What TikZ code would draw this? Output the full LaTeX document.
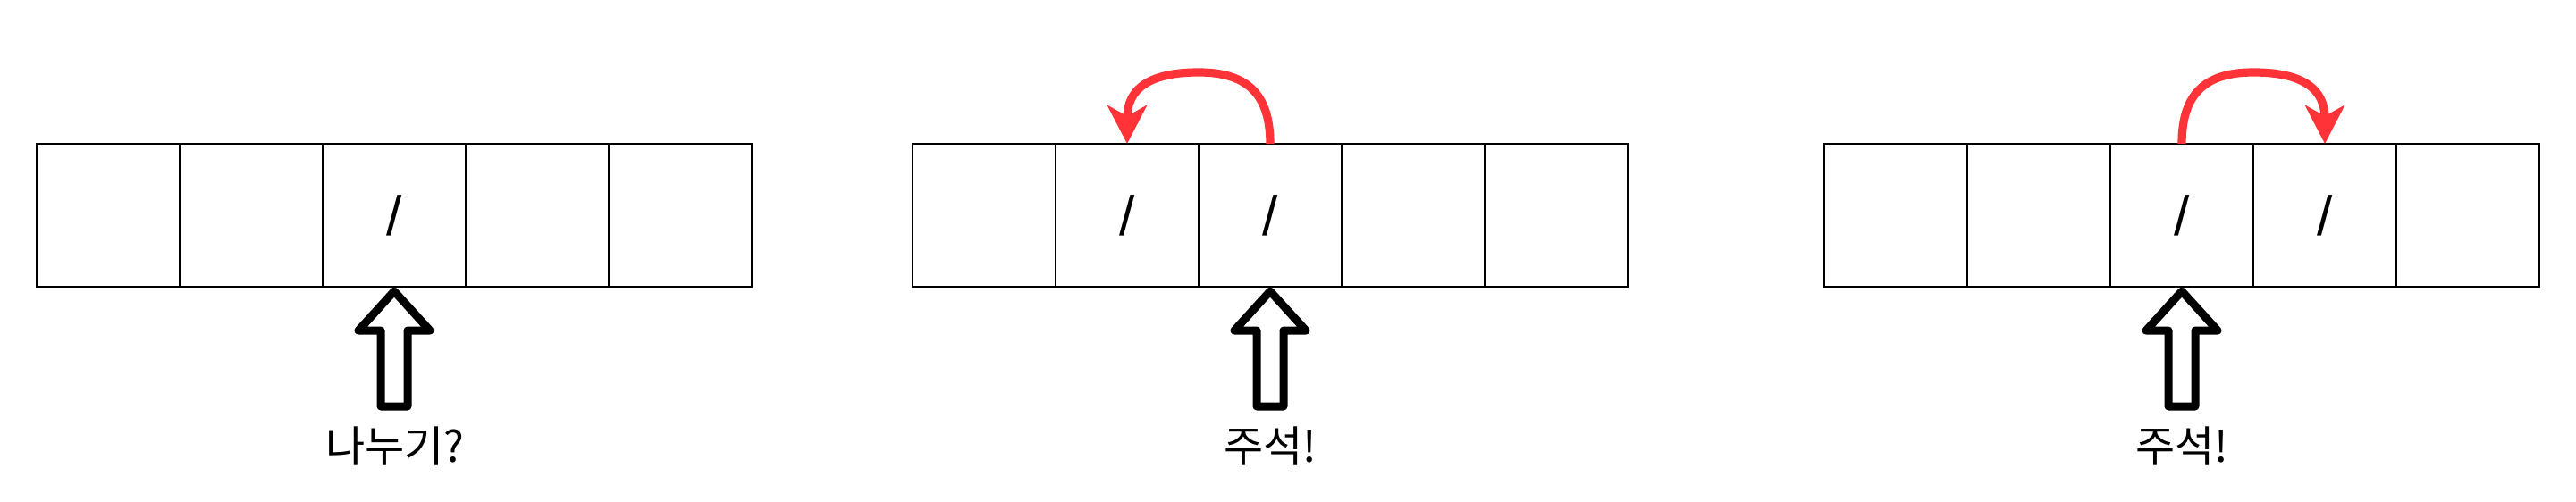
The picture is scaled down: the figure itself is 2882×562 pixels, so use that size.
\documentclass[tikz,border=0pt]{standalone}
\usepackage{fontspec}
\newfontfamily\krfont{Noto Sans CJK KR}
\newfontfamily\slashfont{Liberation Sans}
\usetikzlibrary{arrows.meta}
\definecolor{arrowred}{RGB}{255,51,56}
\tikzset{
  cell/.style={draw=black, line width=1pt, minimum width=80pt, minimum height=80pt, inner sep=0pt, outer sep=0pt},
  slashmark/.style={font=\slashfont\fontsize{31pt}{36pt}\selectfont, inner sep=0pt},
  outerframe/.style={draw=black, line width=1.35pt},
  hollowarrow/.style={draw=black, line width=4.5pt, line join=round, line cap=round},
  caption/.style={font=\krfont\fontsize{24pt}{28pt}\selectfont, inner sep=0pt},
  movearrow/.style={draw=arrowred, line width=4.6pt, -{Stealth[length=21.5pt, width=22pt, inset=6pt]}}
}
\begin{document}
\begin{tikzpicture}[x=0.5pt, y=-0.5pt]
\useasboundingbox (0,0) rectangle (2882,562);
% ---------- cells ----------
\foreach \i in {1,...,5} {
  \node[cell] (a\i) at ({41+160*(\i-0.5)},241) {};
  \node[cell] (b\i) at ({1021+160*(\i-0.5)},241) {};
  \node[cell] (c\i) at ({2041+160*(\i-0.5)},241) {};
}
\draw[outerframe] (a1.north west) rectangle (a5.south east);
\draw[outerframe] (b1.north west) rectangle (b5.south east);
\draw[outerframe] (c1.north west) rectangle (c5.south east);

% ---------- slash contents ----------
\node[slashmark] (sa3) at (a3) {/};
\node[slashmark] (sb2) at (b2) {/};
\node[slashmark] (sb3) at (b3) {/};
\node[slashmark] (sc3) at (c3) {/};
\node[slashmark] (sc4) at (c4) {/};

% ---------- hollow up arrows ----------
\foreach \c in {441, 1421, 2441} {
  \draw[hollowarrow] (\c,326) -- (\c+40,370) -- (\c+15,370) -- (\c+15,455)
     -- (\c-15,455) -- (\c-15,370) -- (\c-40,370) -- cycle;
}

% ---------- captions ----------
\node[caption] (ta) at (442,500) {나누기?};
\node[caption] (tb) at (1421,500) {주석!};
\node[caption] (tc) at (2441,500) {주석!};

% ---------- red move arrows ----------
\coordinate (pb) at (1341,81);
\coordinate (pc) at (2521,81);
\draw[movearrow] (b3.north) .. controls (1421,105) and (1395,81) .. (pb)
   .. controls (1285,81) and (1261,100) .. (b2.north);
\draw[movearrow] (c3.north) .. controls (2441,105) and (2467,81) .. (pc)
   .. controls (2577,81) and (2601,100) .. (c4.north);
\end{tikzpicture}
\end{document}
